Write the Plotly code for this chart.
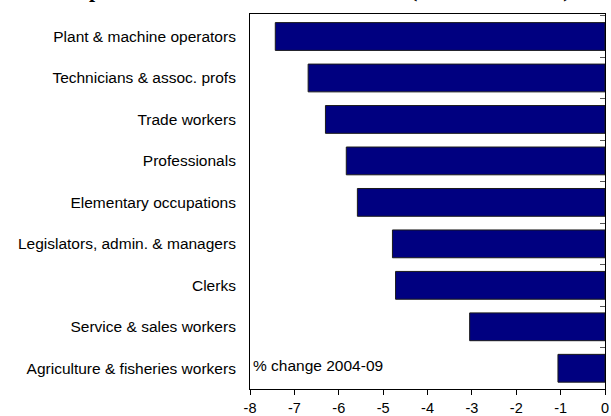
import plotly.graph_objects as go

occupations = [
    "Plant & machine operators",
    "Technicians & assoc. profs",
    "Trade workers",
    "Professionals",
    "Elementary occupations",
    "Legislators, admin. & managers",
    "Clerks",
    "Service & sales workers",
    "Agriculture & fisheries workers",
]
pct_change = [-7.43, -6.69, -6.30, -5.83, -5.58, -4.79, -4.72, -3.05, -1.06]
x_ticks = [-8, -7, -6, -5, -4, -3, -2, -1, 0]
title_text = "Occupation shifts in the labour market (2004 to 2009 all)"
note_text = "% change 2004-09"

FONT = "Liberation Sans, Arial, sans-serif"

fig = go.Figure()
fig.add_trace(go.Bar(
    x=pct_change, y=occupations, orientation="h",
    marker=dict(color="#000080", line=dict(color="#1a1a1a", width=1)),
    showlegend=False, hoverinfo="x+y",
))
fig.add_trace(go.Scatter(
    x=[pct_change[0]], y=[occupations[0]], yaxis="y2", mode="markers",
    marker=dict(opacity=0), showlegend=False, hoverinfo="skip",
))

fig.update_layout(
    width=611, height=416,
    margin=dict(l=250, r=6, t=14, b=27, autoexpand=False),
    plot_bgcolor="white", paper_bgcolor="white",
    font=dict(family=FONT, color="black"),
    bargap=0.33,
    xaxis=dict(
        range=[-8, 0], tickvals=x_ticks, ticktext=[str(v) for v in x_ticks],
        showgrid=False, zeroline=False, automargin=False,
        showline=True, linecolor="black", linewidth=1, mirror=True,
        ticks="outside", ticklen=5, tickcolor="black",
        ticklabelstandoff=1,
        tickfont=dict(size=14.5, family=FONT),
    ),
    yaxis=dict(
        categoryorder="array", categoryarray=occupations, autorange="reversed",
        showgrid=False, showline=True, linecolor="black", linewidth=1, mirror=True,
        ticks="", ticklabelstandoff=10, automargin=False,
        tickfont=dict(size=15.5, family=FONT),
    ),
    yaxis2=dict(
        overlaying="y", side="right", matches="y",
        categoryorder="array", categoryarray=occupations,
        showticklabels=False, showgrid=False, showline=False, automargin=False,
        ticks="inside", tickson="boundaries", ticklen=5, tickcolor="#555",
    ),
    annotations=[
        dict(text=note_text, xref="paper", yref="paper", x=0.003, y=0.035,
             xanchor="left", yanchor="bottom", showarrow=False,
             font=dict(size=15.5, family=FONT)),
        dict(text="<b>" + title_text + "</b>", xref="paper", yref="paper",
             x=-0.597, y=1.0, xanchor="left", yanchor="bottom", yshift=10,
             showarrow=False,
             font=dict(size=22, family="Liberation Serif, Times New Roman, serif")),
    ],
)

fig.write_html("out.html")
